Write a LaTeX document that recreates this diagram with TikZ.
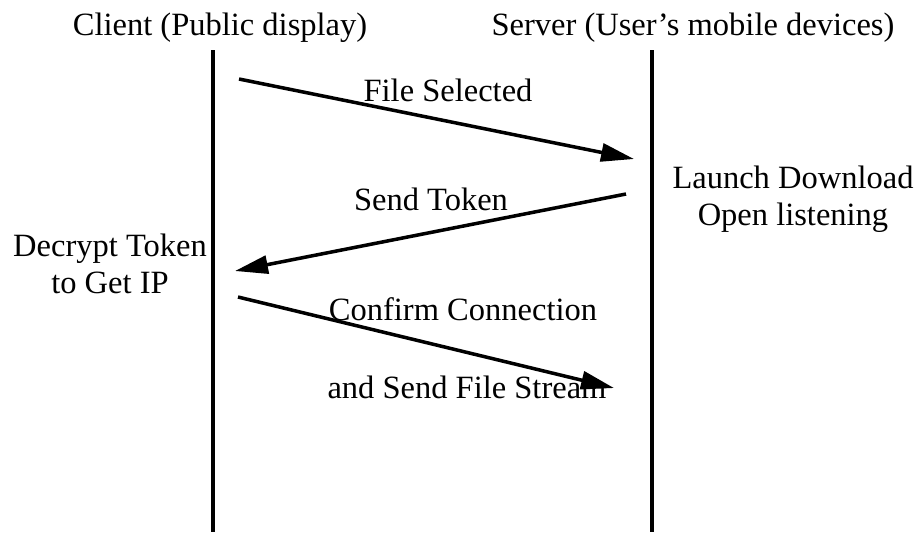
\documentclass[tikz,border=0pt]{standalone}
\usepackage{fontspec}
\setmainfont{Liberation Serif}
\usetikzlibrary{positioning, arrows.meta}

\begin{document}
\begin{tikzpicture}[
            x=0.02cm, y=-0.02cm,
            every node/.style={font=\fontsize{18.5}{21}\selectfont},
            lbl/.style={inner sep=0pt, anchor=base},
            lifeline/.style={line width=2pt},
            msg/.style={-{Triangle[length=0.66cm, width=0.36cm]}, line width=2pt}
        ]
        \useasboundingbox (0,0) rectangle (920,532);

        % Define the two parties and their lifelines
        \node[lbl] (client) at (220,35) {Client (Public display)};
        \node[lbl] (server) at (693,35) {Server (User's mobile devices)};
        \coordinate (clienttop) at (213,50);
        \coordinate (clientbot) at (213,532);
        \coordinate (servertop) at (652,50);
        \coordinate (serverbot) at (652,532);

        % Define the notes beside the lifelines
        \node[lbl, align=center] (decrypt) at (110,293) {Decrypt Token\\to Get IP};
        \node[lbl, align=center] (launch) at (793,225) {Launch Download\\Open listening};

        % Define the end points of the messages
        \coordinate (selfrom) at (239,79);
        \coordinate (selto) at (634,159);
        \coordinate (tokfrom) at (626,194);
        \coordinate (tokto) at (235,271);
        \coordinate (confrom) at (238,297);
        \coordinate (conto) at (614,388);

        % Define the message labels
        \node[lbl] (selected) at (448,101) {File Selected};
        \node[lbl] (token) at (431,210) {Send Token};
        \node[lbl] (confirm) at (463,320) {Confirm Connection};
        \node[lbl] (stream) at (467,398) {and Send File Stream};

        % Draw the lifelines and the messages
        \draw[lifeline] (clienttop) -- (clientbot);
        \draw[lifeline] (servertop) -- (serverbot);
        \draw[msg] (selfrom) -- (selto);
        \draw[msg] (tokfrom) -- (tokto);
        \draw[msg] (confrom) -- (conto);
    \end{tikzpicture}
\end{document}
